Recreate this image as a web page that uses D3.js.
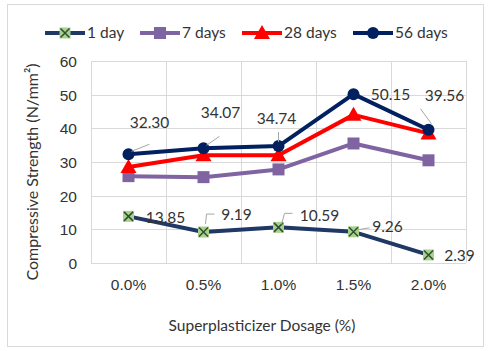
<!DOCTYPE html>
<meta charset="utf-8">
<style>
body { margin: 0; background: #fff; }
svg { font-family: Lato, 'Open Sans', sans-serif; }
.grid line { stroke: #d9d9d9; stroke-width: 1px; }
.axis text { fill: #333; font-size: 15.5px; }
.axis path, .axis line { display: none; }
</style>
<svg width="488" height="351"></svg>
<script src="https://cdn.jsdelivr.net/npm/d3@7"></script>
<script>

var dosages = ["0.0%", "0.5%", "1.0%", "1.5%", "2.0%"];
var seriesNames = ["1 day", "7 days", "28 days", "56 days"];
var day1 = [13.85, 9.19, 10.59, 9.26, 2.39];
var day7 = [25.8, 25.5, 27.8, 35.5, 30.5];
var day28 = [28.5, 32.0, 32.0, 44.0, 38.5];
var day56 = [32.30, 34.07, 34.74, 50.15, 39.56];
var yTicks = [0, 10, 20, 30, 40, 50, 60];

var series = [
    {name: seriesNames[0], values: day1, color: "#1f3864", marker: "x", fill: "#a9d18e"},
    {name: seriesNames[1], values: day7, color: "#8064a2", marker: "square", fill: "#8064a2"},
    {name: seriesNames[2], values: day28, color: "#ff0000", marker: "triangle", fill: "#ff0000"},
    {name: seriesNames[3], values: day56, color: "#002060", marker: "circle", fill: "#002060"}
];

// label offsets (dx, dy from point to text centre) and leader lines
var labels56 = [
    {dx: 21, dy: -32, lead: [[3, -3], [21, -10]]},
    {dx: 17, dy: -36, lead: [[3, -3], [16, -12]]},
    {dx: -2, dy: -27, lead: [[0, -4], [0, -14]]},
    {dx: 37, dy: 0, lead: null},
    {dx: 16, dy: -34, lead: [[3, -6], [-8, -21]]}
];
var labels1 = [
    {dx: 37, dy: 1, lead: null},
    {dx: 33, dy: -17, lead: [[2, -8], [3, -18], [11, -18]]},
    {dx: 41, dy: -12, lead: [[3, -3], [6, -14], [14, -14]]},
    {dx: 34, dy: -5, lead: [[4, -2], [16, -4]]},
    {dx: 31, dy: 1, lead: null}
];

var svg = d3.select("svg");

svg.append("rect")
    .attr("x", 7.5).attr("y", 4.5)
    .attr("width", 476).attr("height", 342)
    .attr("fill", "#fff")
    .attr("stroke", "#d9d9d9");

var margin = {left: 91, right: 466, top: 61, bottom: 263};

var x = d3.scaleBand()
    .domain(dosages)
    .range([margin.left, margin.right]);

var y = d3.scaleLinear()
    .domain([0, 60])
    .range([margin.bottom, margin.top]);

var grid = svg.append("g").attr("class", "grid");
grid.selectAll("line.h")
    .data(yTicks)
    .enter().append("line")
    .attr("x1", margin.left).attr("x2", margin.right)
    .attr("y1", function(d) { return Math.round(y(d)) + 0.5; })
    .attr("y2", function(d) { return Math.round(y(d)) + 0.5; });
grid.selectAll("line.v")
    .data(dosages.concat(["end"]))
    .enter().append("line")
    .attr("x1", function(d, i) { return Math.round(margin.left + i * x.bandwidth()) + 0.5; })
    .attr("x2", function(d, i) { return Math.round(margin.left + i * x.bandwidth()) + 0.5; })
    .attr("y1", margin.top).attr("y2", margin.bottom);

svg.append("g")
    .attr("class", "axis")
    .attr("transform", "translate(" + margin.left + ",0)")
    .call(d3.axisLeft(y).tickValues(yTicks).tickSize(0).tickPadding(14))
    .selectAll("text").attr("dy", "0.35em");

svg.append("g")
    .attr("class", "axis")
    .attr("transform", "translate(0," + margin.bottom + ")")
    .call(d3.axisBottom(x).tickSize(0).tickPadding(16));

svg.append("text")
    .attr("x", 262).attr("y", 331)
    .attr("text-anchor", "middle")
    .attr("fill", "#333")
    .style("font-size", "15.5px")
    .text("Superplasticizer Dosage (%)");

svg.append("text")
    .attr("transform", "translate(38,172) rotate(-90)")
    .attr("text-anchor", "middle")
    .attr("fill", "#333")
    .style("font-size", "16px")
    .text("Compressive Strength (N/mm²)");

function cx(i) { return x(dosages[i]) + x.bandwidth() / 2; }

var line = d3.line()
    .x(function(d, i) { return cx(i); })
    .y(function(d) { return y(d); });

function drawMarker(g, s, px, py) {
    if (s.marker === "circle") {
        g.append("circle").attr("cx", px).attr("cy", py).attr("r", 6).attr("fill", s.fill);
    } else if (s.marker === "square") {
        g.append("rect").attr("x", px - 6).attr("y", py - 6).attr("width", 12).attr("height", 12).attr("fill", s.fill);
    } else if (s.marker === "triangle") {
        g.append("path").attr("d", "M" + px + "," + (py - 8) + "L" + (px + 8) + "," + (py + 6) + "L" + (px - 8) + "," + (py + 6) + "Z").attr("fill", s.fill);
    } else {
        g.append("rect").attr("x", px - 5.5).attr("y", py - 5.5).attr("width", 11).attr("height", 11).attr("fill", s.fill);
        g.append("path").attr("d", "M" + (px - 4.5) + "," + (py - 4.5) + "L" + (px + 4.5) + "," + (py + 4.5) + "M" + (px + 4.5) + "," + (py - 4.5) + "L" + (px - 4.5) + "," + (py + 4.5))
            .attr("stroke", "#2f4f2f").attr("stroke-width", 1.5);
    }
}

series.forEach(function(s) {
    var g = svg.append("g");
    g.append("path")
        .datum(s.values)
        .attr("d", line)
        .attr("fill", "none")
        .attr("stroke", s.color)
        .attr("stroke-width", 4)
        .attr("stroke-linejoin", "round");
    s.values.forEach(function(v, i) { drawMarker(g, s, cx(i), y(v)); });
});

function drawLabels(values, offsets) {
    var g = svg.append("g");
    values.forEach(function(v, i) {
        var px = cx(i), py = y(v), o = offsets[i];
        if (o.lead) {
            g.append("path")
                .attr("d", "M" + o.lead.map(function(p) { return (px + p[0]) + "," + (py + p[1]); }).join("L"))
                .attr("fill", "none").attr("stroke", "#a6a6a6").attr("stroke-width", 1);
        }
        g.append("text")
            .attr("x", px + o.dx).attr("y", py + o.dy)
            .attr("dy", "0.35em")
            .attr("text-anchor", "middle")
            .attr("fill", "#333")
            .style("font-size", "15.5px")
            .text(v.toFixed(2));
    });
}
drawLabels(day56, labels56);
drawLabels(day1, labels1);

// legend
var legendX = [45, 140, 242, 353];
var legend = svg.append("g");
series.forEach(function(s, i) {
    var lx = legendX[i], ly = 33;
    legend.append("line")
        .attr("x1", lx).attr("x2", lx + 40)
        .attr("y1", ly).attr("y2", ly)
        .attr("stroke", s.color).attr("stroke-width", 4);
    drawMarker(legend, s, lx + 20, ly);
    legend.append("text")
        .attr("x", lx + 42).attr("y", ly)
        .attr("dy", "0.35em")
        .attr("fill", "#333")
        .style("font-size", "15.5px")
        .text(s.name);
});

</script>
